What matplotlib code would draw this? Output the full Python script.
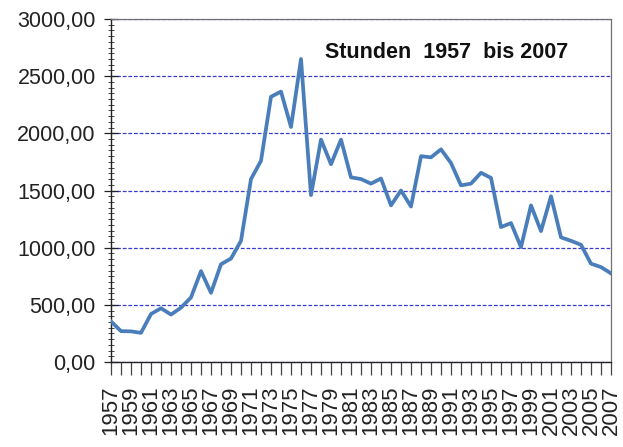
import matplotlib

matplotlib.use("Agg")
import matplotlib.pyplot as plt
from matplotlib.ticker import FuncFormatter, MultipleLocator

# Stunden pro Jahr, 1957-2007
years = list(range(1957, 2008))
hours = [
    355, 270, 268, 255, 420, 470, 415, 475, 565, 795,
    605, 855, 905, 1060, 1600, 1760, 2320, 2365, 2055, 2650,
    1460, 1945, 1730, 1945, 1615, 1600, 1560, 1605, 1370, 1500,
    1360, 1800, 1790, 1860, 1740, 1545, 1560, 1655, 1610, 1180,
    1215, 1005, 1370, 1145, 1450, 1090, 1060, 1025, 860, 830,
    775,
]
title = "Stunden  1957  bis 2007"

plt.rcParams["font.family"] = ["Liberation Sans", "DejaVu Sans"]

fig = plt.figure(figsize=(6.23, 4.47), dpi=100)
ax = fig.add_axes([111 / 623, 85 / 447, 500 / 623, 343 / 447])

ax.plot(years, hours, color="#4a7ebb", linewidth=2.7, solid_joinstyle="round",
        zorder=3)

ax.set_xlim(years[0], years[-1])
ax.set_ylim(0, 3000)

# y axis: German number format
ax.yaxis.set_major_locator(MultipleLocator(500))
ax.yaxis.set_minor_locator(MultipleLocator(50))
ax.yaxis.set_major_formatter(
    FuncFormatter(lambda v, _: f"{v:.2f}".replace(".", ",")))
ax.tick_params(axis="y", which="major", direction="inout", length=10,
               width=0.9, labelsize=15.5, pad=6, colors="#222222")
ax.tick_params(axis="y", which="minor", direction="inout", length=4,
               width=0.7, colors="#444444")

# x axis: tick every year, label every other year
ax.xaxis.set_minor_locator(MultipleLocator(1))
ax.set_xticks(years[::2])
ax.set_xticklabels([str(y) for y in years[::2]], rotation=90, va="top",
                   ha="center")
ax.tick_params(axis="x", which="both", direction="out", length=9,
               width=0.9, colors="#444444")
ax.tick_params(axis="x", which="major", labelsize=16, pad=8,
               labelcolor="#222222")

ax.grid(axis="y", which="major", color="#3a3ad0", linestyle=(0, (3, 1.5)),
        linewidth=0.9, zorder=1)

for side in ("left", "bottom"):
    ax.spines[side].set_color("#222222")
    ax.spines[side].set_linewidth(1.0)
for side in ("top", "right"):
    ax.spines[side].set_color("#707070")
    ax.spines[side].set_linewidth(0.9)
ax.spines["right"].set_linestyle((0, (1.5, 1)))

ax.text(0.671, 0.902, title, transform=ax.transAxes, ha="center",
        va="center", fontsize=15.5, fontweight="bold", color="#111111")

fig.savefig("out.png", dpi=100)
